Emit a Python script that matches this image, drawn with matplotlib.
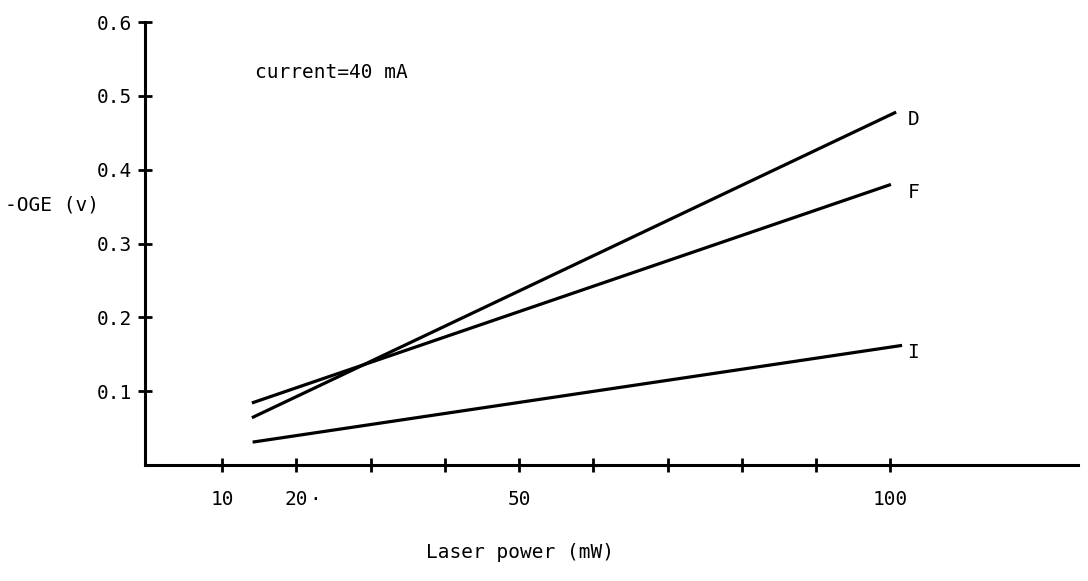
import matplotlib.pyplot as plt

# laser power (mW) at the two ends of each fitted line
d_power = [14, 100.8]
f_power = [14, 100.1]
i_power = [14.1, 101.6]

# -OGE signal (V)
d_oge = [0.064, 0.478]
f_oge = [0.084, 0.380]
i_oge = [0.031, 0.162]

x_ticks = [10, 20, 30, 40, 50, 60, 70, 80, 90, 100]
x_labels = ["10", "20", "", "", "50", "", "", "", "", "100"]
y_ticks = [0.1, 0.2, 0.3, 0.4, 0.5, 0.6]
y_labels = ["0.1", "0.2", "0.3", "0.4", "0.5", "0.6"]

plt.rcParams["font.family"] = "DejaVu Sans Mono"
plt.rcParams["font.size"] = 14

fig = plt.figure(figsize=(10.88, 5.81), dpi=100)
ax = fig.add_axes([145 / 1088, 116 / 581, 933 / 1088, 443 / 581])

for xs, ys in [(d_power, d_oge), (f_power, f_oge), (i_power, i_oge)]:
    ax.plot(xs, ys, color="black", linewidth=2.3, solid_capstyle="butt")

ax.text(102.3, 0.468, "D", va="center", ha="left")
ax.text(102.3, 0.369, "F", va="center", ha="left")
ax.text(102.3, 0.153, "I", va="center", ha="left")
ax.text(14.4, 0.531, "current=40 mA", va="center", ha="left")
ax.text(22.5, -0.047, "·", va="center", ha="center", clip_on=False)

ax.set_xlim(-0.4, 125.3)
ax.set_ylim(0, 0.6)
ax.set_xticks(x_ticks)
ax.set_xticklabels(x_labels)
ax.set_yticks(y_ticks)
ax.set_yticklabels(y_labels)

for side in ["top", "right"]:
    ax.spines[side].set_visible(False)
for side in ["left", "bottom"]:
    ax.spines[side].set_linewidth(2.2)

ax.tick_params(axis="both", direction="inout", length=10, width=2)
ax.tick_params(axis="x", pad=13)
ax.tick_params(axis="y", pad=4)

fig.text(5 / 1088, 1 - 205 / 581, "-OGE (v)", va="center", ha="left")
fig.text(520 / 1088, 1 - 552 / 581, "Laser power (mW)", va="center", ha="center")

fig.savefig("out.png", dpi=100)
